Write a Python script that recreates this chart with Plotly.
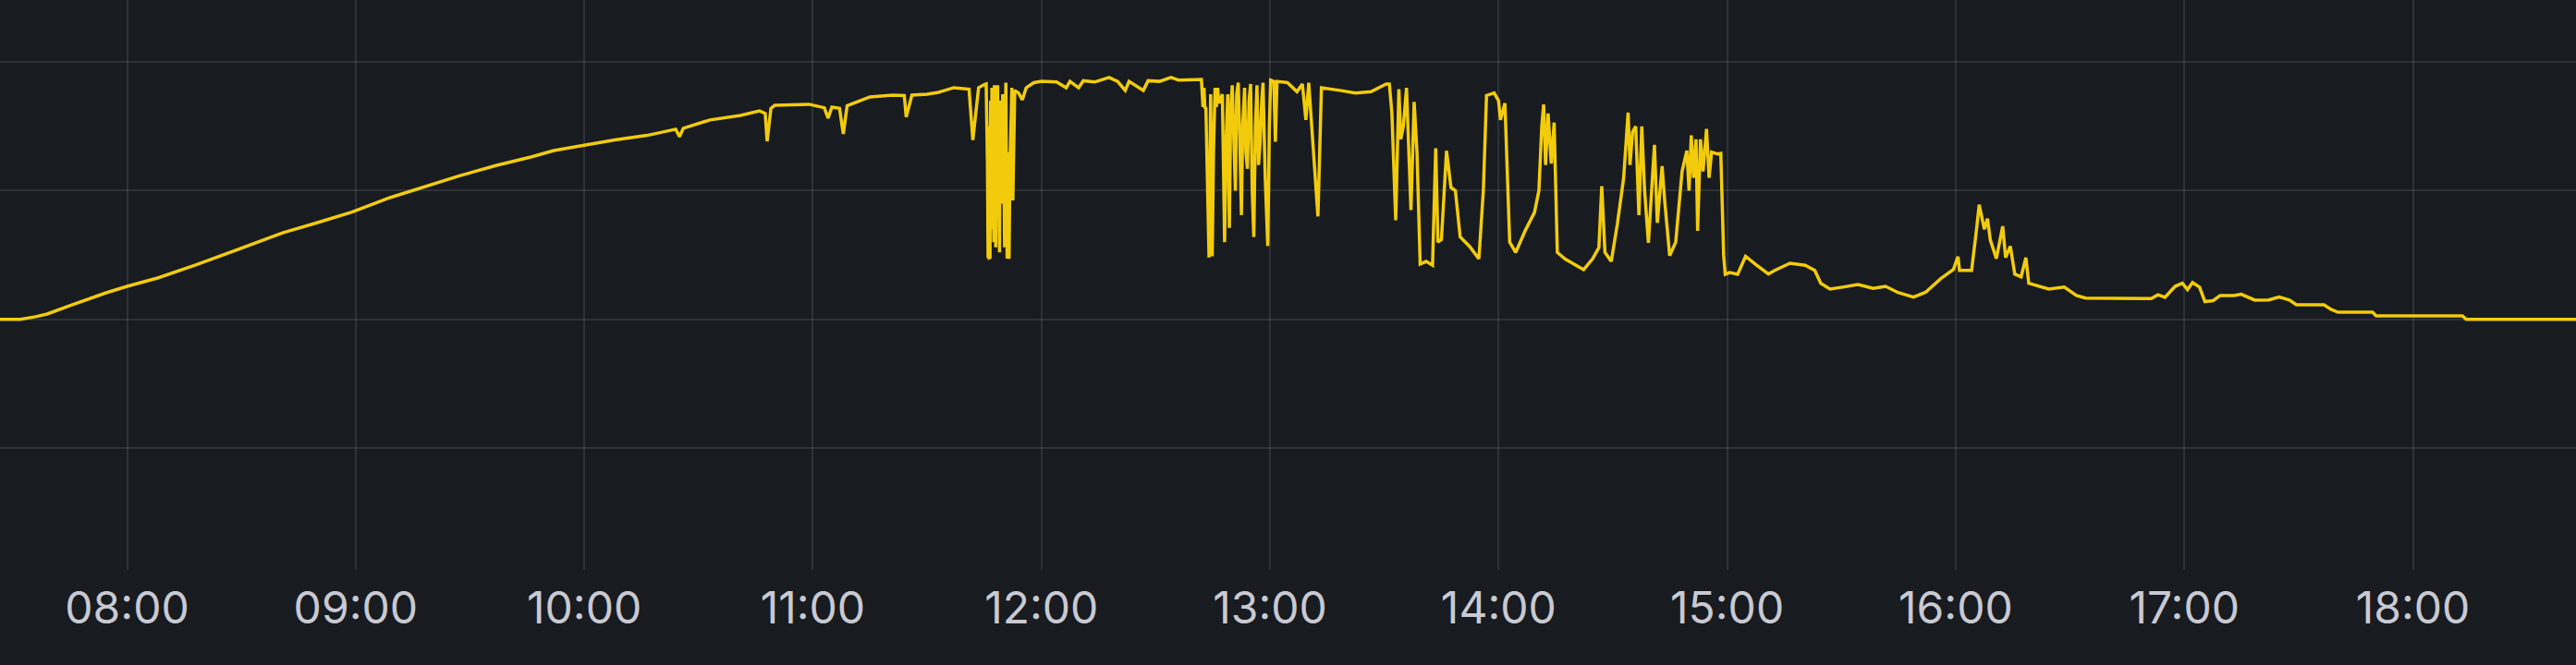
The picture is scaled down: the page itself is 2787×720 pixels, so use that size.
import plotly.graph_objects as go

DAY = "2024-06-15"

# ---- Morning ramp (07:26 - 11:45) ----
morning_times = [
    "07:26:00", "07:32:00", "07:36:00", "07:39:00", "07:45:00", "07:54:30", "08:00:00", "08:08:00",
    "08:18:00", "08:32:00", "08:41:00", "08:50:00", "08:59:00", "09:09:00", "09:18:00", "09:27:00",
    "09:37:00", "09:46:00", "09:52:00", "10:00:00", "10:08:00", "10:16:30", "10:24:00", "10:25:00",
    "10:26:00", "10:33:00", "10:41:00", "10:46:00", "10:47:30", "10:48:00", "10:49:00", "10:50:00",
    "10:59:00", "11:03:00", "11:04:00", "11:05:00", "11:07:00", "11:08:00", "11:09:00", "11:10:00",
    "11:15:00", "11:21:00", "11:24:00", "11:24:30", "11:26:00", "11:30:00", "11:33:00", "11:37:00",
    "11:41:00", "11:42:00", "11:43:30", "11:45:00",
]
morning_power = [
    0, 0, 20, 41, 106, 206, 256, 321,
    422, 572, 674, 752, 833, 946, 1032, 1114,
    1197, 1262, 1312, 1355, 1395, 1430, 1478, 1420,
    1485, 1550, 1585, 1621, 1600, 1384, 1640, 1664,
    1672, 1645, 1564, 1650, 1640, 1442, 1660, 1672,
    1729, 1743, 1740, 1573, 1743, 1750, 1765, 1801,
    1790, 1394, 1800, 1825,
]

# ---- Midday plateau with cloud dips (11:45 - 13:27) ----
midday_times = [
    "11:45:30", "11:45:50", "11:46:00", "11:46:10", "11:46:20", "11:46:30", "11:46:40", "11:46:50",
    "11:47:00", "11:47:10", "11:47:20", "11:47:30", "11:47:40", "11:47:50", "11:48:00", "11:48:10",
    "11:48:20", "11:48:30", "11:48:40", "11:48:50", "11:49:00", "11:49:10", "11:49:20", "11:49:30",
    "11:49:40", "11:49:50", "11:50:00", "11:50:10", "11:50:20", "11:50:30", "11:50:40", "11:50:50",
    "11:51:00", "11:51:15", "11:51:30", "11:51:45", "11:52:00", "11:52:15", "11:52:30", "11:52:45",
    "11:53:00", "11:54:00", "11:55:00", "11:56:00", "11:58:00", "12:00:00", "12:04:00", "12:06:30",
    "12:07:30", "12:09:45", "12:11:00", "12:14:00", "12:17:45", "12:20:00", "12:22:00", "12:23:00",
    "12:26:45", "12:28:00", "12:31:00", "12:34:00", "12:36:00", "12:42:00", "12:42:15", "12:42:25",
    "12:42:40", "12:42:55", "12:43:10", "12:43:30", "12:44:00", "12:44:25", "12:44:50", "12:45:10",
    "12:45:35", "12:45:55", "12:46:15", "12:46:35", "12:46:55", "12:47:30", "12:48:05", "12:48:30",
    "12:48:55", "12:49:20", "12:49:40", "12:50:05", "12:50:30", "12:50:55", "12:51:15", "12:51:40",
    "12:52:05", "12:52:30", "12:52:50", "12:53:20", "12:53:40", "12:54:05", "12:54:30", "12:54:55",
    "12:55:20", "12:55:45", "12:56:10", "12:56:35", "12:57:00", "12:57:25", "12:57:50", "12:58:10",
    "12:58:45", "12:59:25", "12:59:50", "13:00:10", "13:01:00", "13:01:25", "13:01:50", "13:04:35",
    "13:07:05", "13:08:30", "13:09:25", "13:10:10", "13:12:35", "13:13:30", "13:18:20", "13:22:25",
    "13:26:30",
]
midday_power = [
    1830, 1200, 475, 1500, 478, 480, 1700, 900,
    1800, 700, 1300, 600, 1820, 1100, 560, 1750,
    800, 1820, 1400, 600, 520, 1650, 1700, 1000,
    900, 1750, 1600, 1100, 560, 1500, 1840, 1000,
    472, 1300, 470, 1200, 1500, 1800, 925, 1600,
    1780, 1760, 1707, 1800, 1840, 1850, 1845, 1800,
    1850, 1800, 1855, 1845, 1880, 1850, 1780, 1850,
    1780, 1855, 1850, 1880, 1860, 1865, 1750, 1650,
    1800, 1640, 1650, 1200, 480, 1750, 490, 1300,
    1800, 1650, 1800, 1680, 1700, 1750, 600, 1400,
    1750, 710, 1600, 1820, 1300, 1000, 1750, 1840,
    1400, 810, 1500, 1800, 1300, 1170, 1700, 1830,
    1000, 640, 1500, 1820, 1200, 1380, 1700, 1840,
    1100, 570, 1500, 1860, 1850, 1380, 1850, 1840,
    1770, 1830, 1550, 1840, 800, 1800, 1780, 1760,
    1770,
]

# ---- Broken clouds (13:30 - 14:59) ----
clouds_times = [
    "13:30:30", "13:31:20", "13:32:00", "13:33:00", "13:33:50", "13:34:20", "13:35:00", "13:35:50",
    "13:36:20", "13:37:00", "13:37:50", "13:38:35", "13:39:25", "13:41:00", "13:42:40", "13:43:30",
    "13:44:05", "13:45:00", "13:46:20", "13:47:30", "13:48:40", "13:49:55", "13:52:25", "13:54:50",
    "13:56:00", "13:56:50", "13:58:50", "14:00:00", "14:00:30", "14:01:40", "14:02:55", "14:04:30",
    "14:07:00", "14:09:25", "14:10:35", "14:11:20", "14:11:50", "14:12:20", "14:13:00", "14:13:50",
    "14:14:35", "14:15:25", "14:17:25", "14:20:40", "14:22:20", "14:24:40", "14:26:20", "14:27:05",
    "14:27:55", "14:29:35", "14:31:10", "14:32:50", "14:34:00", "14:34:30", "14:35:10", "14:36:00",
    "14:36:50", "14:37:35", "14:38:20", "14:39:20", "14:40:55", "14:41:40", "14:42:55", "14:43:40",
    "14:44:55", "14:46:30", "14:48:10", "14:49:25", "14:50:00", "14:50:35", "14:51:10", "14:51:50",
    "14:52:15", "14:53:00", "14:53:40", "14:54:35", "14:55:15", "14:55:55", "14:57:30", "14:58:20",
    "14:59:05",
]
clouds_power = [
    1830, 1830, 1600, 770, 1790, 1400, 1500, 1800,
    1450, 850, 1690, 1300, 430, 450, 420, 1330,
    600, 620, 1310, 1025, 1000, 640, 565, 470,
    1000, 1740, 1760, 1700, 1550, 1680, 600, 520,
    690, 830, 1000, 1500, 1670, 1200, 1600, 1210,
    1530, 520, 470, 414, 386, 470, 558, 1035,
    520, 450, 738, 1100, 1607, 1200, 1456, 1500,
    809, 1500, 1000, 594, 1356, 750, 1190, 900,
    494, 600, 1150, 1312, 1000, 1430, 1100, 1400,
    688, 1400, 1150, 1480, 1100, 1300, 1286, 1290,
    494,
]

# ---- Afternoon decline (14:59 - 18:44) ----
evening_times = [
    "14:59:30", "15:00:40", "15:02:45", "15:04:50", "15:07:35", "15:10:50", "15:12:30", "15:16:30",
    "15:20:30", "15:23:00", "15:24:35", "15:27:00", "15:30:20", "15:34:20", "15:38:20", "15:41:35",
    "15:44:50", "15:48:55", "15:52:05", "15:56:05", "15:59:25", "16:00:35", "16:01:00", "16:04:10",
    "16:05:25", "16:06:10", "16:07:30", "16:08:20", "16:09:05", "16:10:40", "16:12:20", "16:13:05",
    "16:14:20", "16:15:30", "16:17:10", "16:18:25", "16:19:10", "16:24:25", "16:28:30", "16:31:40",
    "16:34:05", "16:51:20", "16:53:05", "16:54:55", "16:57:35", "16:59:30", "17:00:50", "17:02:10",
    "17:04:00", "17:05:25", "17:07:35", "17:09:25", "17:13:05", "17:14:55", "17:18:30", "17:22:10",
    "17:24:55", "17:27:35", "17:29:25", "17:36:40", "17:38:30", "17:40:20", "17:49:25", "17:50:20",
    "18:13:00", "18:14:00", "18:44:00",
]
evening_power = [
    350, 363, 350, 490, 424, 352, 380, 436,
    420, 380, 280, 235, 250, 270, 240, 256,
    208, 173, 210, 316, 388, 487, 380, 380,
    688, 891, 700, 783, 616, 472, 723, 480,
    568, 352, 330, 480, 280, 235, 250, 185,
    165, 161, 190, 170, 256, 280, 230, 285,
    250, 137, 145, 185, 185, 195, 149, 150,
    173, 150, 113, 113, 77, 55, 55, 27,
    27, 0, 0,
]

times = morning_times + midday_times + clouds_times + evening_times
power = morning_power + midday_power + clouds_power + evening_power
assert len(times) == len(power)
x = [f"{DAY} {t}" for t in times]

BG = "#181b1f"
GRID = "rgba(204,204,220,0.13)"
LINE = "#F2CC0C"
FONT = "Inter, Roboto, sans-serif"

fig = go.Figure()
fig.add_trace(go.Scatter(
    x=x, y=power, mode="lines",
    line=dict(color=LINE, width=3.5),
    hoverinfo="skip",
))

fig.update_layout(
    width=2787, height=720,
    margin=dict(l=0, r=0, t=0, b=103, pad=0),
    paper_bgcolor=BG, plot_bgcolor=BG,
    showlegend=False,
    font=dict(family=FONT, size=48, color="#c8c9d2"),
)
fig.update_xaxes(
    type="date",
    range=[f"{DAY} 07:26:38", f"{DAY} 18:42:49"],
    tick0=f"{DAY} 08:00:00", dtick=3600000,
    tickformat="%H:%M",
    showgrid=True, gridcolor=GRID, gridwidth=2,
    zeroline=False, showline=False, ticks="",
    ticklabelstandoff=9,
    tickfont=dict(family=FONT, size=48, color="#c8c9d2"),
)
fig.update_yaxes(
    range=[-1949, 2483],
    tick0=0, dtick=1000,
    showgrid=True, gridcolor=GRID, gridwidth=2,
    zeroline=False, showline=False, ticks="",
    showticklabels=False,
)

fig.write_html(
    "out.html",
    config={"displayModeBar": False, "staticPlot": True},
    post_script="document.body.style.margin='0';document.body.style.background='#181b1f';document.documentElement.style.overflow='hidden';",
)
